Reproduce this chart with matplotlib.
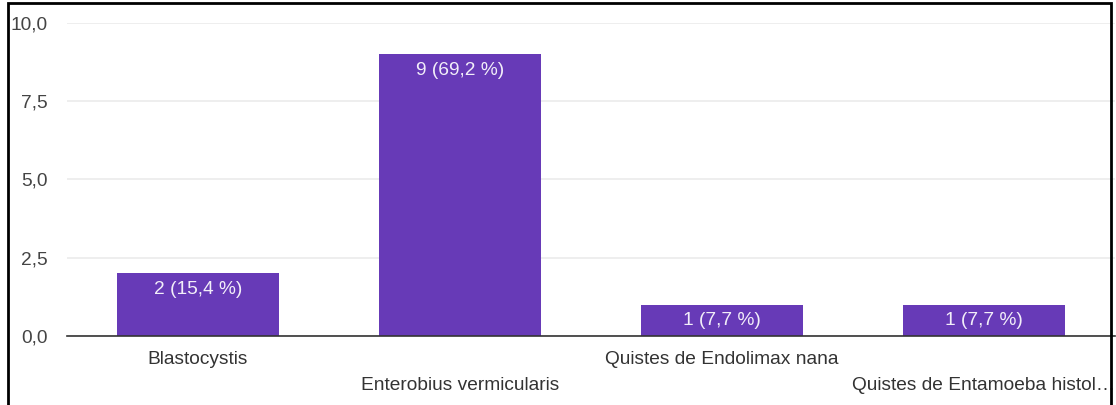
import matplotlib
matplotlib.use("Agg")
import matplotlib.pyplot as plt
from matplotlib.patches import Rectangle
from matplotlib.ticker import FixedLocator, FuncFormatter
import matplotlib.transforms as mtransforms

categories = ["Blastocystis", "Enterobius vermicularis",
              "Quistes de Endolimax nana", "Quistes de Entamoeba histol…"]
counts = [2, 9, 1, 1]
percent_labels = ["15,4 %", "69,2 %", "7,7 %", "7,7 %"]
yticks = [0.0, 2.5, 5.0, 7.5, 10.0]

W, H = 1116, 405
fig = plt.figure(figsize=(W / 100, H / 100), dpi=100)
plt.rcParams['font.family'] = ['Liberation Sans', 'DejaVu Sans']

FS = 13.8
ax = fig.add_axes([67 / W, (H - 336) / H, (1115 - 67) / W, (336 - 22.7) / H])
x = list(range(len(categories)))
bars = ax.bar(x, counts, width=0.62, color="#673ab7", zorder=3)
ax.set_xlim(-0.5, len(categories) - 0.5)
ax.set_ylim(0, 10)

ax.yaxis.set_major_locator(FixedLocator(yticks))
ax.yaxis.set_major_formatter(FuncFormatter(lambda v, p: f"{v:.1f}".replace(".", ",")))
ax.tick_params(axis="y", length=0, pad=14, labelsize=FS, labelcolor="#444444")
ax.set_xticks([])
ax.grid(axis="y", color="#ebebeb", linewidth=1.2, zorder=0)
for s in ["top", "right", "left"]:
    ax.spines[s].set_visible(False)
ax.spines["bottom"].set_color("#333333")
ax.spines["bottom"].set_linewidth(1.2)
ax.spines["bottom"].set_zorder(4)

# bar value labels
off = mtransforms.offset_copy(ax.transData, fig=fig, x=0, y=-16 * 0.72, units="points")
for xi, c, pl in zip(x, counts, percent_labels):
    ax.text(xi, c, f"{c} ({pl})", transform=off, ha="center", va="center",
            color="#f2eef9", fontsize=FS, zorder=5)

# staggered category labels
trans = mtransforms.blended_transform_factory(ax.transData, ax.transAxes)
for i, (xi, cat) in enumerate(zip(x, categories)):
    dy = 24 if i % 2 == 0 else 50
    t = mtransforms.offset_copy(trans, fig=fig, x=0, y=-dy * 0.72, units="points")
    ax.text(xi, 0, cat, transform=t, ha="center", va="center",
            color="#333333", fontsize=FS, clip_on=False)

# screenshot frame
fig.patches.append(Rectangle((8 / W, -0.05), (1111 - 8) / W, (H - 3) / H + 0.05,
                             transform=fig.transFigure, fill=False,
                             edgecolor="black", linewidth=2, zorder=10))

fig.savefig("out.png", dpi=100)
